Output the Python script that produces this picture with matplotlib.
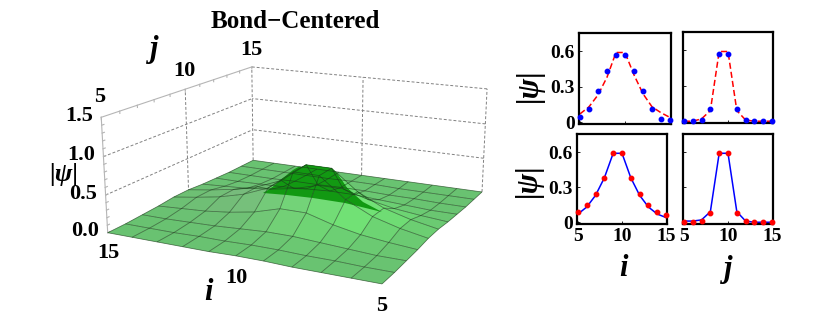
import matplotlib
matplotlib.use('Agg')
import matplotlib.pyplot as plt
from matplotlib.path import Path
from matplotlib.transforms import IdentityTransform
from mpl_toolkits.mplot3d import proj3d
import numpy as np

plt.rcParams['font.family'] = ['Liberation Serif', 'DejaVu Serif']

sites = np.arange(5, 16)
# |psi| on the lattice, rows are i=5..15, columns are j=5..15
psi = np.array([
    [.00, .00, .01, .02, .04, .04, .02, .01, .00, .00, .00],
    [.00, .00, .01, .05, .11, .11, .05, .01, .00, .00, .00],
    [.00, .01, .03, .09, .21, .21, .09, .03, .01, .00, .00],
    [.00, .01, .05, .16, .38, .38, .16, .05, .01, .00, .00],
    [.01, .02, .07, .26, .65, .65, .26, .07, .02, .01, .00],
    [.01, .02, .07, .26, .65, .65, .26, .07, .02, .01, .00],
    [.00, .01, .05, .16, .38, .38, .16, .05, .01, .00, .00],
    [.00, .01, .03, .10, .24, .24, .10, .03, .01, .00, .00],
    [.00, .00, .02, .06, .15, .15, .06, .02, .00, .00, .00],
    [.00, .00, .01, .04, .09, .09, .04, .01, .00, .00, .00],
    [.00, .00, .01, .02, .04, .04, .02, .01, .00, .00, .00],
])

# cuts through the centre
i_cut_line = [.07, .13, .23, .38, .59, .59, .40, .24, .13, .08, .04]
i_cut_dots = [.04, .11, .26, .43, .57, .57, .43, .26, .11, .03, .02]
j_cut_line = [.00, .00, .02, .09, .59, .59, .09, .01, .00, .00, .00]
j_cut_dots = [.00, .00, .01, .10, .57, .57, .10, .01, .00, .00, .00]
i_cut_line2 = [.07, .13, .23, .38, .59, .59, .38, .23, .13, .07, .04]
i_cut_dots2 = [.09, .15, .24, .38, .59, .59, .38, .24, .15, .09, .06]
j_cut_line2 = [.01, .01, .02, .09, .59, .59, .09, .01, .00, .00, .00]
j_cut_dots2 = [.00, .00, .01, .08, .59, .59, .08, .01, .00, .00, .00]

z_ticks = [0.0, 0.5, 1.0, 1.5]
lat_ticks = [5, 10, 15]

fig = plt.figure(figsize=(8.3, 3.32), dpi=100)

# camera fitted to the corners of the box in the reference
ax = fig.add_axes([0, 0, 1, 1], projection='3d')
ax.set_proj_type('persp', focal_length=0.464)
ax.view_init(elev=15.635, azim=-153.617)
ax.set_box_aspect((1, 0.995, 0.399))
ax.set_axis_off()
ax.set_xlim(5, 15)
ax.set_ylim(5, 15)
ax.set_zlim(0, 1.5)
ax.computed_zorder = False
u0, u1 = ax.viewLim.intervalx
v0, v1 = ax.viewLim.intervaly
scale, tx, ty = 2180.2, 306.14, 174.52
ax.set_position([(tx + scale * u0) / 830, (ty + scale * v0) / 332,
                 scale * (u1 - u0) / 830, scale * (v1 - v0) / 332])
M = ax.get_proj()


def label3d(x, y, z, s, **kw):
    # 3d text reports odd extents, so put the label in figure coordinates
    u, v, _ = proj3d.proj_transform(x, y, z, M)
    fig.text((tx + scale * u) / 830, (ty + scale * v) / 332, s, **kw)


grid = dict(color='#808080', lw=0.7, ls=(0, (3, 2)), zorder=1)
box = dict(color='#b5b5b5', lw=0.8, zorder=1)
for z in z_ticks[1:]:
    ax.plot([15, 15], [5, 15], [z, z], **grid)
for z in z_ticks[1:3]:
    ax.plot([5, 15], [15, 15], [z, z], **grid)
for t in [10, 15]:
    ax.plot([t, t], [15, 15], [0, 1.5], **grid)
ax.plot([15, 15], [5, 5], [0, 1.5], **grid)
ax.plot([15, 15], [10, 10], [0, 1.5], **grid)
ax.plot([5, 15], [15, 15], [1.5, 1.5], **box)
ax.plot([5, 5], [15, 15], [0, 1.5], **box)
for t in sites:
    ax.plot([t, t], [15, 15], [1.5, 1.47], **box)
for z in np.arange(0, 1.5, 0.1):
    ax.plot([5, 5.12], [15, 15], [z, z], **box)

J, I = np.meshgrid(sites, sites)
face = np.empty((10, 10, 4))
dark = np.empty((10, 10, 4))
for a in range(10):
    for b in range(10):
        h = min(psi[a:a+2, b:b+2].mean(), 0.2) * 5
        # bright on the low i slope, greyer on the high i slope
        w = np.clip((6.5 - a) / 4, 0, 1)
        face[a, b] = (0.38 + 0.06 * h * (1 - w) + 0.03 * h * w,
                      0.75 + 0.13 * h * w - 0.03 * h * (1 - w),
                      0.41 + 0.05 * h * (1 - w) + 0.02 * h * w, 0.95)
        dark[a, b] = (0.07, 0.6, 0.07, 1.0)
edge = (0.1, 0.25, 0.1, 0.7)
ax.plot_surface(J, I, psi, facecolors=face, rstride=1, cstride=1,
                edgecolor=(0, 0, 0, 0), linewidth=0, shade=False, zorder=2)
top = ax.plot_surface(J, I, psi, facecolors=dark, rstride=1, cstride=1,
                      edgecolor=(0, 0, 0, 0), linewidth=0, shade=False, zorder=3)
# outline of the dark cap over the peak
cap = [(263, 193), (273, 187), (283, 178), (293, 170), (305, 163), (330, 166), (338, 175), (347, 188),
       (363, 202), (382, 212), (345, 203), (313, 198), (287, 195), (263, 193)]
top.set_clip_path(Path([(x, 332 - y) for x, y in cap]), IdentityTransform())
ax.plot_wireframe(J, I, psi, rstride=1, cstride=1, color=edge, linewidth=0.55, zorder=4)

tick_font = dict(fontsize=16, fontweight='bold', va='center')
for z in z_ticks:
    label3d(5, 15.35, z, f'{z:.1f}', ha='right', **tick_font)
for t in lat_ticks:
    label3d(t, 15, 1.76, str(t), ha='center', **tick_font)
    label3d(5, t, -0.27, str(t), ha='center', **tick_font)

fig.text(64 / 830, 1 - 174 / 332, '|ψ|', fontsize=19, style='italic', fontweight='bold', ha='center', va='center')
fig.text(154 / 830, 1 - 49 / 332, 'j', fontsize=22, style='italic', fontweight='bold', ha='center', va='center')
fig.text(208 / 830, 1 - 293 / 332, 'i', fontsize=22, style='italic', fontweight='bold', ha='center', va='center')
fig.text(295 / 830, 1 - 22 / 332, 'Bond\u2212Centered', fontsize=18, fontweight='bold', ha='center', va='center')


def inset(x0, x1, y0, y1, line, dots, line_c, dot_c, ls, left, bottom):
    a = fig.add_axes([x0 / 830, 1 - y1 / 332, (x1 - x0) / 830, (y1 - y0) / 332])
    a.plot(sites, line, color=line_c, lw=1.1, ls=ls)
    a.plot(sites, dots, 'o', color=dot_c, ms=3.2, clip_on=False, zorder=5)
    a.set_xlim(4.9, 15.1)
    a.set_ylim(-0.015, 0.755)
    a.set_xticks(lat_ticks)
    a.set_yticks([0, 0.3, 0.6])
    a.set_yticklabels(['0', '0.3', '0.6'] if left else [])
    if not bottom:
        a.set_xticklabels([])
    a.tick_params(direction='in', length=2, width=0.6, pad=3, labelsize=14)
    for lab in a.get_xticklabels() + a.get_yticklabels():
        lab.set_fontweight('bold')
    for s in a.spines.values():
        s.set_linewidth(1.6)
    return a


dash = (0, (4, 2))
inset(579, 671, 33, 124, i_cut_line, i_cut_dots, 'red', 'blue', dash, True, False)
inset(683, 773, 32, 123, j_cut_line, j_cut_dots, 'red', 'blue', dash, False, False)
inset(577, 667, 134, 224, i_cut_line2, i_cut_dots2, 'blue', 'red', '-', True, True)
inset(683, 773, 134, 224, j_cut_line2, j_cut_dots2, 'blue', 'red', '-', False, True)

psi_font = dict(fontsize=22, style='italic', fontweight='bold', rotation=90, ha='center', va='center')
fig.text(529 / 830, 1 - 85 / 332, '|ψ|', **psi_font)
fig.text(528 / 830, 1 - 180 / 332, '|ψ|', **psi_font)
fig.text(623 / 830, 1 - 269 / 332, 'i', fontsize=22, style='italic', fontweight='bold', ha='center', va='center')
fig.text(728 / 830, 1 - 269 / 332, 'j', fontsize=22, style='italic', fontweight='bold', ha='center', va='center')

fig.savefig('out.png', dpi=100)
